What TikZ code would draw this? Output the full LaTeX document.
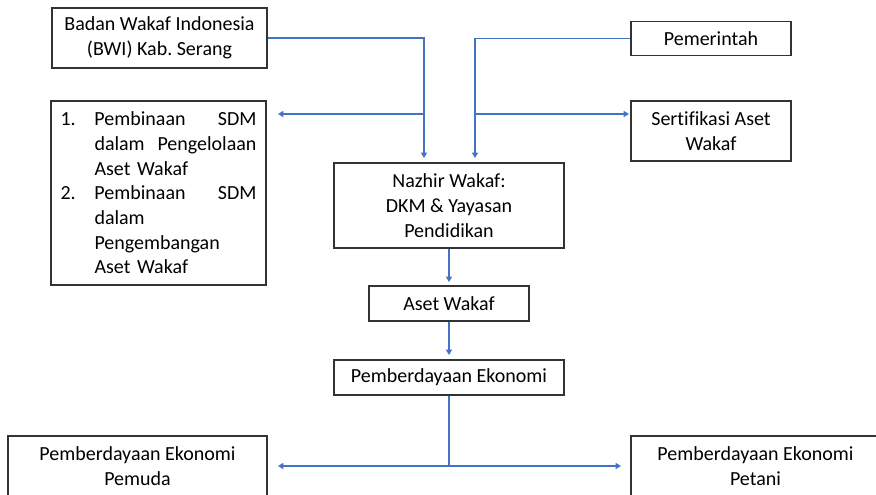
\documentclass[tikz,border=0pt]{standalone}
\usepackage{fontspec}
\setmainfont{Carlito}[Ligatures=NoCommon]
\frenchspacing
\usetikzlibrary{arrows.meta}
\definecolor{wkblue}{rgb}{0.27,0.45,0.77}
\definecolor{wkborder}{rgb}{0.20,0.20,0.20}
\tikzstyle{wkbox}=[rectangle, draw=wkborder, line width=0.9pt, align=center, inner sep=0pt, font=\fontsize{15}{18.5}\selectfont]
\tikzstyle{wkline}=[draw=wkblue, line width=0.8pt, -{Triangle[length=4pt,width=4.5pt]}]
\newcommand{\wkbox}[5]{
	\node[wkbox, minimum width=#3, minimum height=#4] (#1) at (#2) {#5};}

\begin{document}
\begin{tikzpicture}[x=0.75pt, y=-0.75pt]
\useasboundingbox (0,0) rectangle (876,495);
\wkbox{bwi}{159.5,38}{161.25pt}{45pt}{Badan Wakaf Indonesia\\(BWI) Kab. Serang}
\wkbox{pem}{711,38.5}{120pt}{25.5pt}{Pemerintah}
\wkbox{sert}{711,131}{120pt}{45pt}{Sertifikasi Aset\\Wakaf}
\node[wkbox, minimum width=161.25pt, minimum height=138pt, text width=147pt, align=left] (list) at (158.5,193) {%
\makebox[25.5pt][l]{1.}\makebox[121.5pt][s]{Pembinaan\hfill SDM}\\
\hspace*{25.5pt}\makebox[121.5pt][s]{dalam\hfill Pengelolaan}\\
\hspace*{25.5pt}Aset Wakaf\\
\makebox[25.5pt][l]{2.}\makebox[121.5pt][s]{Pembinaan\hfill SDM}\\
\hspace*{25.5pt}dalam\\
\hspace*{25.5pt}Pengembangan\\
\hspace*{25.5pt}Aset Wakaf};
\wkbox{naz}{449,205.5}{172.5pt}{63.75pt}{Nazhir Wakaf:\\DKM \& Yayasan\\Pendidikan}
\wkbox{aset}{449,303.5}{120pt}{26.25pt}{Aset Wakaf}
\wkbox{pe}{449,377.5}{172.5pt}{26.25pt}{Pemberdayaan Ekonomi}
\wkbox{pemuda}{137.5,466}{194.25pt}{45pt}{Pemberdayaan Ekonomi\\Pemuda}
\wkbox{petani}{755.5,466}{186.75pt}{45pt}{Pemberdayaan Ekonomi\\Petani}
% free ends of the connectors
\coordinate (tnazl) at (424,158);
\coordinate (tnazr) at (475,158);
\coordinate (tlist) at (278,114);
\coordinate (tsert) at (629,114);
\coordinate (taset) at (449,282);
\coordinate (tpe) at (449,355);
\coordinate (jpe) at (449,466);
\coordinate (tpemuda) at (278,466);
\coordinate (tpetani) at (621,466);
\draw[wkline] (bwi.east) -| (tnazl);
\draw[wkline] (tnazl |- tlist) -- (tlist);
\draw[wkline] (pem.west) -| (tnazr);
\draw[wkline] (tnazr |- tsert) -- (tsert);
\draw[wkline] (naz) -- (taset);
\draw[wkline] (aset) -- (tpe);
\draw[wkline, -] (pe) -- (jpe);
\draw[wkline] (jpe) -- (tpemuda);
\draw[wkline] (jpe) -- (tpetani);
\end{tikzpicture}
\end{document}
